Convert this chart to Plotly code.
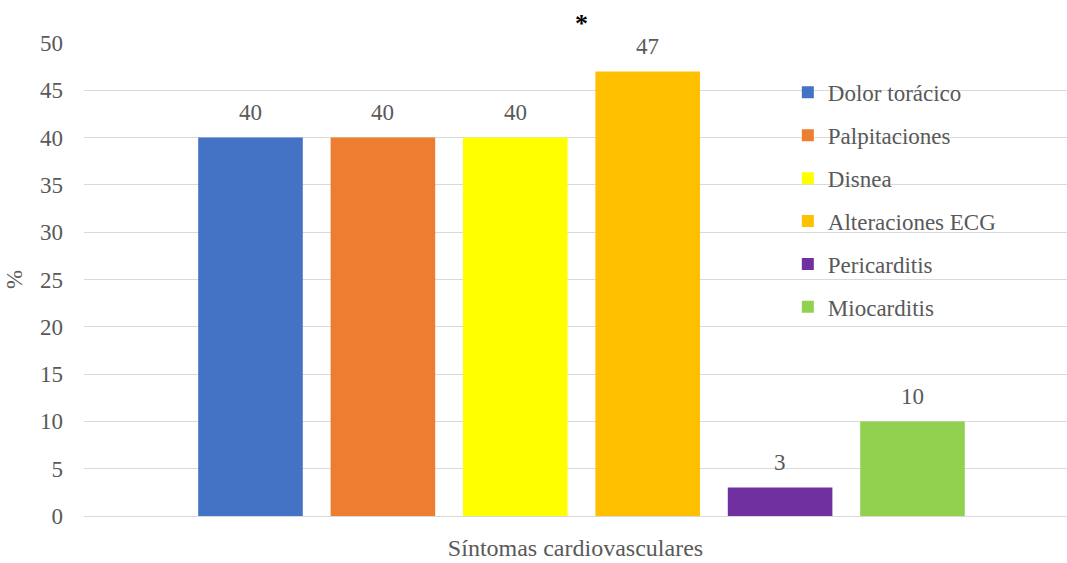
import plotly.graph_objects as go

categories = ["Dolor torácico", "Palpitaciones", "Disnea", "Alteraciones ECG", "Pericarditis", "Miocarditis"]
values = [40, 40, 40, 47, 3, 10]
colors = ["#4472C4", "#ED7D31", "#FFFF00", "#FFC000", "#7030A0", "#92D050"]
y_ticks = [0, 5, 10, 15, 20, 25, 30, 35, 40, 45, 50]
x_title = "Síntomas cardiovasculares"
y_title = "%"
significance_mark = "<b>*</b>"

FONT = "Liberation Serif, Times New Roman, serif"
GRAY = "#595959"

fig = go.Figure()
for i, (cat, val, col) in enumerate(zip(categories, values, colors)):
    fig.add_trace(go.Bar(
        x=[cat], y=[val], name=cat, marker=dict(color=col, line=dict(width=0)),
        width=0.79, legendgroup=f"g{i}", hoverinfo="x+y",
    ))
    fig.add_annotation(x=cat, y=val, text=str(val), showarrow=False,
                       yanchor="middle", yshift=25,
                       font=dict(family=FONT, size=23, color=GRAY))

# significance asterisk between Disnea and Alteraciones ECG
fig.add_annotation(x=2.5, xref="x", y=1.042, yref="paper", text=significance_mark,
                   showarrow=False, yanchor="middle",
                   font=dict(family=FONT, size=26, color="#000000"))

fig.update_layout(
    width=1067, height=563,
    margin=dict(l=84, r=0, t=43, b=47),
    paper_bgcolor="white", plot_bgcolor="white",
    barmode="overlay",
    font=dict(family=FONT, size=23, color=GRAY),
    showlegend=True,
    legend=dict(x=0.716, y=0.941, xanchor="left", yanchor="top",
                bgcolor="rgba(0,0,0,0)", font=dict(family=FONT, size=23, color=GRAY),
                traceorder="grouped", tracegroupgap=10, itemclick=False),
    xaxis=dict(
        type="category", categoryorder="array", categoryarray=categories,
        range=[-1.2575, 6.167], showticklabels=False, showgrid=False,
        zeroline=False, showline=False, ticks="",
        title=dict(text=x_title, standoff=23, font=dict(family=FONT, size=24, color=GRAY)),
    ),
    yaxis=dict(
        range=[0, 50], tickvals=y_ticks, ticks="", showline=False,
        gridcolor="#D9D9D9", gridwidth=1.3, zeroline=True, zerolinecolor="#D9D9D9",
        zerolinewidth=1.3, ticklabelstandoff=20,
        tickfont=dict(family=FONT, size=23, color=GRAY),
        title=dict(text=y_title, standoff=10, font=dict(family=FONT, size=23, color=GRAY)),
    ),
)

fig.write_html("out.html")
